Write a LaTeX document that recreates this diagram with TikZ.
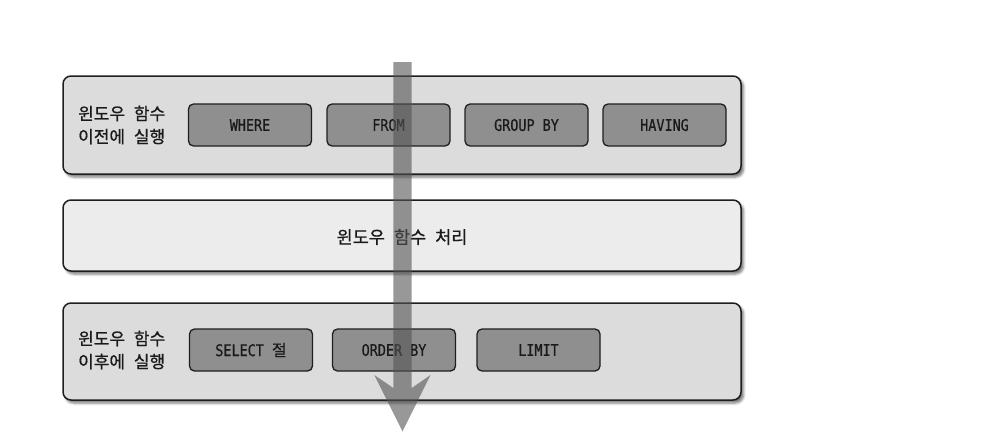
\documentclass[tikz,border=0pt]{standalone}
\usepackage{fontspec}
\usetikzlibrary{shadows.blur}
\newfontfamily\krfont{Noto Sans CJK KR}[WordSpace=2.3, FakeBold=0.8]
\newfontfamily\codefont{DejaVu Sans Mono}[FakeStretch=0.84, FakeBold=0.6]
\definecolor{outerfill}{HTML}{DCDCDC}
\definecolor{midfill}{HTML}{ECECEC}
\definecolor{innerfill}{HTML}{8F8F8F}
\definecolor{edge}{HTML}{1E1E1E}
\definecolor{txt}{HTML}{1A1A1A}
\definecolor{arrowgray}{HTML}{535353}
\tikzset{
  outerbox/.style={draw=edge, line width=1.5pt, rounded corners=8pt,
    minimum width=678pt, inner sep=0pt,
    blur shadow={shadow xshift=2.5pt, shadow yshift=-3pt, shadow blur radius=2.5pt, shadow opacity=55}},
  innerbox/.style={draw=edge, line width=1.3pt, rounded corners=5pt, fill=innerfill,
    minimum width=123pt, minimum height=42pt, inner sep=0pt, text=txt,
    font=\codefont\fontsize{16pt}{19pt}\selectfont},
  sidelabel/.style={anchor=west, align=left, inner sep=0pt, text=txt,
    font=\krfont\fontsize{17pt}{23pt}\selectfont},
  bigarrow/.style={fill=arrowgray, fill opacity=0.6, draw=none}
}
\begin{document}
\begin{tikzpicture}[x=1pt, y=-1pt]
\useasboundingbox (0,0) rectangle (1004,434);
% outer boxes
\node[outerbox, fill=outerfill, minimum height=98pt] (before) at (402,125) {};
\node[outerbox, fill=midfill, minimum height=71pt] (proc) at (402,235.5) {};
\node[outerbox, fill=outerfill, minimum height=97pt] (after) at (402,351.5) {};
% top box content
\node[sidelabel] (beforelbl) at (78,125) {윈도우 함수\\이전에 실행};
\node[innerbox] (where) at (250,125) {WHERE};
\node[innerbox] (from) at (388.5,125) {FROM};
\node[innerbox] (groupby) at (526.5,125) {GROUP BY};
\node[innerbox] (having) at (664.5,125) {HAVING};
% middle text
\node[text=txt, font=\krfont\fontsize{17.5pt}{20pt}\selectfont, inner sep=0pt] (proclbl) at (402,237) {윈도우 함수 처리};
% bottom box content
\node[sidelabel] (afterlbl) at (78,350) {윈도우 함수\\이후에 실행};
\node[innerbox] (select) at (251,350) {SELECT {\krfont 절}};
\node[innerbox] (orderby) at (394,350) {ORDER BY};
\node[innerbox] (limit) at (538.5,350) {LIMIT};
% big flow arrow
\fill[bigarrow] (393.3,62) -- (411.7,62) -- (411.7,388) -- (430.5,375) -- (402.5,431.5)
  -- (374.3,375) -- (393.3,388) -- cycle;
\end{tikzpicture}
\end{document}
